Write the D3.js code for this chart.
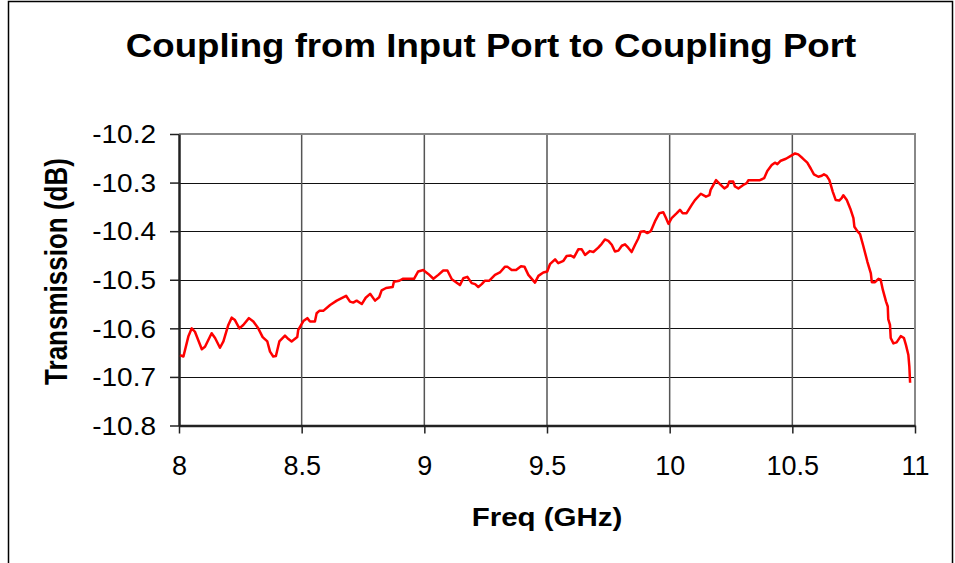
<!DOCTYPE html>
<html>
<head>
<meta charset="utf-8">
<script src="https://cdn.jsdelivr.net/npm/d3@7"></script>
<style>
  body { margin: 0; background: #fff; }
  svg text { font-family: Arial, "Liberation Sans", sans-serif; fill: #000; }
</style>
</head>
<body>
<div id="plot"></div>
<script>
const freq = [8.004, 8.018, 8.038, 8.052, 8.065, 8.093, 8.106, 8.133, 8.147, 8.167,
  8.181, 8.201, 8.215, 8.228, 8.246, 8.262, 8.285, 8.303, 8.323, 8.341,
  8.360, 8.371, 8.384, 8.395, 8.409, 8.432, 8.446, 8.459, 8.482, 8.486,
  8.507, 8.523, 8.534, 8.554, 8.561, 8.572, 8.588, 8.616, 8.643, 8.681,
  8.697, 8.710, 8.724, 8.745, 8.761, 8.779, 8.799, 8.816, 8.826, 8.844,
  8.871, 8.876, 8.898, 8.912, 8.958, 8.975, 8.996, 9.003, 9.016, 9.037,
  9.057, 9.077, 9.094, 9.112, 9.132, 9.145, 9.159, 9.175, 9.193, 9.207,
  9.220, 9.234, 9.247, 9.265, 9.288, 9.308, 9.329, 9.338, 9.356, 9.374,
  9.394, 9.408, 9.424, 9.451, 9.465, 9.485, 9.501, 9.512, 9.533, 9.546,
  9.567, 9.580, 9.597, 9.610, 9.628, 9.641, 9.655, 9.675, 9.689, 9.709,
  9.723, 9.736, 9.750, 9.764, 9.777, 9.791, 9.805, 9.818, 9.831, 9.845,
  9.859, 9.872, 9.882, 9.895, 9.909, 9.923, 9.940, 9.958, 9.974, 9.985,
  9.995, 10.008, 10.029, 10.042, 10.053, 10.069, 10.090, 10.103, 10.127, 10.148,
  10.162, 10.167, 10.189, 10.205, 10.223, 10.235, 10.243, 10.259, 10.266, 10.280,
  10.300, 10.314, 10.321, 10.348, 10.368, 10.385, 10.398, 10.416, 10.429, 10.439,
  10.453, 10.474, 10.494, 10.511, 10.524, 10.542, 10.561, 10.575, 10.588, 10.606,
  10.620, 10.629, 10.640, 10.651, 10.665, 10.677, 10.691, 10.701, 10.708, 10.722,
  10.738, 10.749, 10.753, 10.765, 10.776, 10.789, 10.806, 10.820, 10.824, 10.837,
  10.851, 10.860, 10.869, 10.882, 10.889, 10.891, 10.898, 10.901, 10.912, 10.925,
  10.942, 10.955, 10.963, 10.973, 10.977, 10.980];

const transmission = [-10.655, -10.658, -10.617, -10.600, -10.607, -10.643, -10.638, -10.610, -10.620, -10.640,
  -10.627, -10.593, -10.578, -10.583, -10.600, -10.593, -10.579, -10.586, -10.600, -10.618,
  -10.627, -10.648, -10.658, -10.657, -10.627, -10.615, -10.622, -10.627, -10.618, -10.603,
  -10.585, -10.579, -10.586, -10.586, -10.569, -10.564, -10.564, -10.552, -10.543, -10.533,
  -10.545, -10.547, -10.543, -10.550, -10.537, -10.529, -10.543, -10.536, -10.522, -10.517,
  -10.515, -10.504, -10.502, -10.498, -10.498, -10.483, -10.480, -10.483, -10.488, -10.498,
  -10.490, -10.481, -10.481, -10.499, -10.506, -10.511, -10.497, -10.494, -10.507, -10.509,
  -10.515, -10.509, -10.502, -10.502, -10.490, -10.485, -10.473, -10.473, -10.480, -10.480,
  -10.472, -10.473, -10.490, -10.506, -10.492, -10.485, -10.483, -10.468, -10.458, -10.466,
  -10.461, -10.451, -10.450, -10.454, -10.437, -10.437, -10.449, -10.441, -10.443, -10.434,
  -10.426, -10.417, -10.420, -10.428, -10.442, -10.440, -10.430, -10.427, -10.434, -10.443,
  -10.428, -10.415, -10.401, -10.400, -10.404, -10.400, -10.380, -10.363, -10.361, -10.373,
  -10.385, -10.373, -10.363, -10.356, -10.363, -10.363, -10.346, -10.336, -10.323, -10.329,
  -10.326, -10.315, -10.295, -10.303, -10.312, -10.308, -10.298, -10.298, -10.308, -10.312,
  -10.305, -10.301, -10.295, -10.295, -10.295, -10.291, -10.276, -10.264, -10.259, -10.262,
  -10.255, -10.251, -10.245, -10.240, -10.242, -10.250, -10.259, -10.271, -10.283, -10.288,
  -10.286, -10.283, -10.286, -10.295, -10.319, -10.336, -10.337, -10.332, -10.326, -10.336,
  -10.356, -10.373, -10.391, -10.400, -10.406, -10.430, -10.463, -10.487, -10.505, -10.505,
  -10.498, -10.500, -10.521, -10.545, -10.555, -10.581, -10.593, -10.620, -10.631, -10.629,
  -10.616, -10.620, -10.634, -10.655, -10.679, -10.712];

const xTicks = [8, 8.5, 9, 9.5, 10, 10.5, 11];
const yTicks = [-10.2, -10.3, -10.4, -10.5, -10.6, -10.7, -10.8];

const chartTitle = "Coupling from Input Port to Coupling Port";
const xTitle = "Freq (GHz)";
const yTitle = "Transmission (dB)";

const data = freq.map((f, i) => ({ f: f, t: transmission[i] }));

// overall layout
const W = 955, H = 563;
const plot = { left: 179, right: 915, top: 134, bottom: 425.5 };

const svg = d3.select("#plot")
    .append("svg")
    .attr("width", W)
    .attr("height", H);

// outer chart border
svg.append("rect")
    .attr("x", 8.5).attr("y", 1.5)
    .attr("width", 944).attr("height", 600)
    .attr("fill", "none")
    .attr("stroke", "#000")
    .attr("stroke-width", 1.5);

const x = d3.scaleLinear().domain([8, 11]).range([plot.left, plot.right]);
const y = d3.scaleLinear().domain([-10.8, -10.2]).range([plot.bottom, plot.top]);

// gridlines
svg.append("g")
    .selectAll("line")
    .data(yTicks)
    .enter().append("line")
    .attr("x1", plot.left).attr("x2", plot.right)
    .attr("y1", d => Math.round(y(d)) + 0.5)
    .attr("y2", d => Math.round(y(d)) + 0.5)
    .attr("stroke", "#111")
    .attr("stroke-width", 1);

svg.append("g")
    .selectAll("line")
    .data(xTicks.slice(1, -1))
    .enter().append("line")
    .attr("x1", d => x(d)).attr("x2", d => x(d))
    .attr("y1", plot.top).attr("y2", plot.bottom)
    .attr("stroke", "#555")
    .attr("stroke-width", 1.5);

// plot area border (top / right grey)
svg.append("path")
    .attr("d", `M${plot.left},${plot.top}H${plot.right}V${plot.bottom}`)
    .attr("fill", "none")
    .attr("stroke", "#888")
    .attr("stroke-width", 2);

// axes
const xAxis = svg.append("g")
    .attr("transform", "translate(0," + plot.bottom + ")")
    .call(d3.axisBottom(x).tickValues(xTicks).tickSize(8).tickSizeOuter(0).tickFormat(d3.format("")));
xAxis.select(".domain").attr("stroke", "#222").attr("stroke-width", 2.5);
xAxis.selectAll(".tick line").attr("stroke", "#222").attr("stroke-width", 1.5);
xAxis.selectAll(".tick text")
    .attr("y", 49)
    .attr("dy", 0)
    .style("font-size", "27px")
    .style("font-family", "Arial, 'Liberation Sans', sans-serif");

const yAxis = svg.append("g")
    .attr("transform", "translate(" + plot.left + ",0)")
    .call(d3.axisLeft(y).tickValues(yTicks).tickSize(9).tickSizeOuter(0).tickFormat(d3.format(".1f")));
yAxis.select(".domain").attr("stroke", "#222").attr("stroke-width", 2.5);
yAxis.selectAll(".tick line").attr("stroke", "#222").attr("stroke-width", 1.5);
yAxis.selectAll(".tick text")
    .attr("x", 0)
    .attr("dy", "0.35em")
    .attr("transform", "translate(-23,0) scale(1.12,1)")
    .text(d => d3.format(".1f")(d).replace("\u2212", "-"))
    .style("font-size", "25px")
    .style("font-family", "Arial, 'Liberation Sans', sans-serif");

// the curve
const line = d3.line()
    .x(d => x(d.f))
    .y(d => y(d.t));

svg.append("path")
    .datum(data)
    .attr("d", line)
    .attr("fill", "none")
    .attr("stroke", "#ff0000")
    .attr("stroke-width", 2.5)
    .attr("stroke-linejoin", "round");

// titles
svg.append("text")
    .attr("transform", "translate(491,57) scale(1.11,1)")
    .attr("text-anchor", "middle")
    .style("font-size", "33px")
    .style("font-weight", "bold")
    .text(chartTitle);

svg.append("text")
    .attr("transform", "translate(547,526) scale(1.18,1)")
    .attr("text-anchor", "middle")
    .style("font-size", "25px")
    .style("font-weight", "bold")
    .text(xTitle);

svg.append("text")
    .attr("transform", "translate(67,271.5) rotate(-90) scale(1,1.22)")
    .attr("text-anchor", "middle")
    .style("font-size", "26px")
    .style("font-weight", "bold")
    .text(yTitle);
</script>
</body>
</html>
